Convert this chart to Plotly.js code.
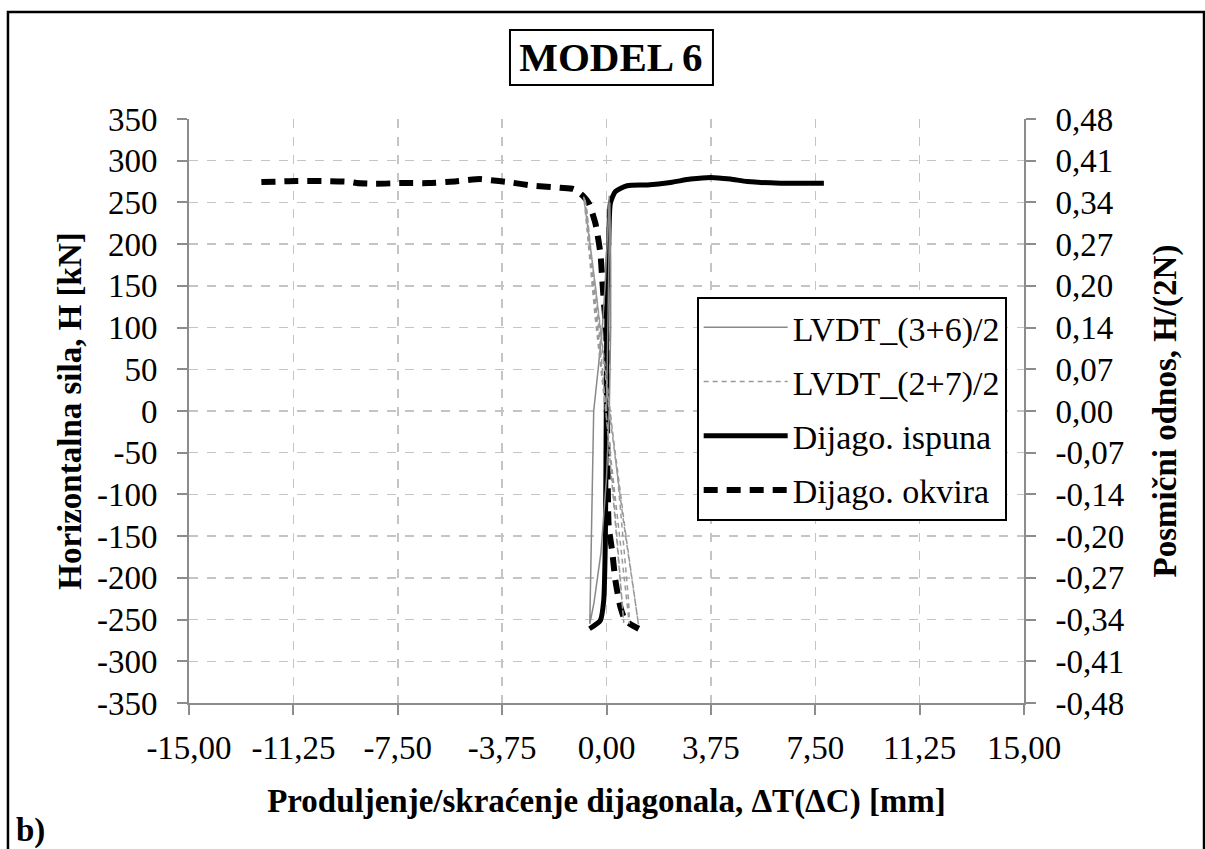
<!DOCTYPE html>
<html>
<head>
<meta charset="utf-8">
<script src="https://cdn.plot.ly/plotly-3.0.1.min.js"></script>
<style>
  html, body { margin: 0; padding: 0; background: #ffffff; }
  #chart { width: 1205px; height: 849px; }
</style>
</head>
<body>
<div id="chart"></div>
<script>
// ---- data ----
const seriesNames = ['LVDT_(3+6)/2', 'LVDT_(2+7)/2', 'Dijago. ispuna', 'Dijago. okvira'];

const lvdt36X = [0, 0.05, 0.10, 0.12, 0.15, 0.15, 0.10, 0.00, -0.20, -0.45, -0.60, -0.55, -0.50, -0.46, -0.30, -0.15, -0.05, 0.03, 0.08, 0.10];
const lvdt36Y = [0, 100, 200, 250, 180, 100, 0, -80, -170, -230, -255, -150, -60, 0, 50, 100, 150, 200, 240, 258];

const lvdt27X = [0, -0.20, -0.45, -0.70, -0.78, -0.50, -0.20, 0.10, 0.35, 0.60, 0.62, 0.30, 0.00, -0.35, -0.70, -0.80, -0.40, 0.00, 0.40, 0.80, 0.82, 0.40, 0.00, -0.40, -0.75, -0.82, -0.40, 0.10, 0.60, 1.00, 1.15, 0.70, 0.20, 0.00];
const lvdt27Y = [0, 60, 150, 240, 255, 160, 60, -40, -140, -240, -254, -120, 0, 130, 235, 256, 150, 40, -80, -230, -255, -130, -10, 110, 235, 257, 150, 0, -130, -225, -256, -150, -20, 30];

const ispunaX = [-0.61, -0.22, -0.10, -0.04, -0.01, 0.02, 0.08, 0.14, 0.32, 0.74, 1.46, 2.30, 3.02, 3.74, 4.45, 5.06, 6.25, 7.81];
const ispunaY = [-261, -251, -227, -150, -11, 141, 201, 249, 263, 270, 271, 274, 278, 280, 278, 275, 273, 273];

const okviraX = [-12.40, -11.14, -10.18, -9.28, -8.98, -8.32, -7.36, -6.40, -5.44, -4.54, -4.30, -3.46, -2.62, -1.66, -1.18, -0.82, -0.64, -0.40, -0.22, -0.16, -0.10, -0.01, 0.02, 0.05, 0.08, 0.20, 0.32, 0.50, 0.68, 1.16];
const okviraY = [274.4, 275.6, 275.6, 274.8, 273.2, 272.4, 273.2, 273.2, 275.2, 278, 277.2, 274, 270, 267.6, 266, 257, 249, 225, 189, 161, 133, 94, -11, -100, -139, -167, -203, -235, -251, -261];

// ---- tick labels ----
const xTickVals = [-15, -11.25, -7.5, -3.75, 0, 3.75, 7.5, 11.25, 15];
const xTickText = ['-15,00', '-11,25', '-7,50', '-3,75', '0,00', '3,75', '7,50', '11,25', '15,00'];
const yTickVals = [-350, -300, -250, -200, -150, -100, -50, 0, 50, 100, 150, 200, 250, 300, 350];
const yTickText = ['-350', '-300', '-250', '-200', '-150', '-100', '-50', '0', '50', '100', '150', '200', '250', '300', '350'];
const y2TickText = ['-0,48', '-0,41', '-0,34', '-0,27', '-0,20', '-0,14', '-0,07', '0,00', '0,07', '0,14', '0,20', '0,27', '0,34', '0,41', '0,48'];

const FONT = 'Liberation Serif, Times New Roman, serif';

const traces = [
  { x: ispunaX, y: ispunaY, name: seriesNames[2], mode: 'lines', legendgroup: 'g3', legendrank: 3,
    line: { color: '#000000', width: 5, shape: 'spline', smoothing: 0.6 } },
  { x: okviraX, y: okviraY, name: seriesNames[3], mode: 'lines', legendgroup: 'g4', legendrank: 4,
    line: { color: '#000000', width: 6, dash: '14px,9px', shape: 'spline', smoothing: 0.6 } },
  { x: lvdt36X, y: lvdt36Y, name: seriesNames[0], mode: 'lines', legendgroup: 'g1', legendrank: 1,
    line: { color: '#888888', width: 1.5 } },
  { x: lvdt27X, y: lvdt27Y, name: seriesNames[1], mode: 'lines', legendgroup: 'g2', legendrank: 2,
    line: { color: '#999999', width: 1.5, dash: '5px,4px' } },
  { x: [], y: [], yaxis: 'y2', showlegend: false, hoverinfo: 'skip', mode: 'lines' }
];

const axisCommon = {
  showline: true, linecolor: '#8c8c8c', linewidth: 2,
  ticks: 'outside', ticklen: 10, tickwidth: 2, tickcolor: '#8c8c8c',
  tickfont: { family: FONT, size: 33, color: '#000000' },
  zeroline: false
};

const layout = {
  width: 1205, height: 849,
  paper_bgcolor: '#ffffff', plot_bgcolor: '#ffffff',
  margin: { l: 189, r: 181, t: 119, b: 146 },
  font: { family: FONT, color: '#000000' },
  title: { text: 'MODEL 6', x: 0.507, xanchor: 'center', y: 0.933, yanchor: 'middle',
           font: { family: FONT, size: 41, weight: 'bold', color: '#000000' } },
  xaxis: Object.assign({}, axisCommon, {
    range: [-15, 15], tickmode: 'array', tickvals: xTickVals, ticktext: xTickText,
    ticklabelstandoff: 4,
    showgrid: true, gridcolor: '#c4c4c4', griddash: 'dash', gridwidth: 1.5,
    title: { text: 'Produljenje/skraćenje dijagonala, ΔT(ΔC) [mm]', standoff: 24,
             font: { family: FONT, size: 33, weight: 'bold', color: '#000000' } }
  }),
  yaxis: Object.assign({}, axisCommon, {
    range: [-350, 350], tickmode: 'array', tickvals: yTickVals, ticktext: yTickText,
    ticklabelstandoff: 13,
    showgrid: true, gridcolor: '#c4c4c4', griddash: 'dash', gridwidth: 1.5,
    title: { text: 'Horizontalna sila, H [kN]', standoff: 5,
             font: { family: FONT, size: 33, weight: 'bold', color: '#000000' } }
  }),
  yaxis2: Object.assign({}, axisCommon, {
    overlaying: 'y', side: 'right', anchor: 'x',
    range: [-350, 350], tickmode: 'array', tickvals: yTickVals, ticktext: y2TickText,
    ticklabelstandoff: 13, showgrid: false,
    title: { text: 'Posmični odnos, H/(2N)', standoff: 30,
             font: { family: FONT, size: 33, weight: 'bold', color: '#000000' } }
  }),
  showlegend: true,
  legend: {
    x: 0.608, y: 0.6957, xanchor: 'left', yanchor: 'top',
    bgcolor: '#ffffff', bordercolor: '#000000', borderwidth: 2,
    font: { family: FONT, size: 34, color: '#000000' },
    traceorder: 'grouped', tracegroupgap: 7, itemwidth: 84
  },
  shapes: [
    // outer frame
    { type: 'rect', xref: 'paper', yref: 'paper', x0: -0.2168, x1: 1.2156, y0: -0.26, y1: 1.1832,
      line: { color: '#000000', width: 2.5 }, fillcolor: 'rgba(0,0,0,0)', layer: 'above' },
    // title box
    { type: 'rect', xref: 'paper', yref: 'paper', x0: 0.3844, x1: 0.6275, y0: 1.0582, y1: 1.1524,
      line: { color: '#000000', width: 2 }, fillcolor: 'rgba(0,0,0,0)', layer: 'above' }
  ],
  annotations: [
    { text: 'b)', xref: 'paper', yref: 'paper', x: -0.19, y: -0.2175, xanchor: 'center', yanchor: 'middle',
      showarrow: false, font: { family: FONT, size: 33, weight: 'bold', color: '#000000' } }
  ]
};

Plotly.newPlot('chart', traces, layout, { displayModeBar: false, staticPlot: true });
</script>
</body>
</html>
